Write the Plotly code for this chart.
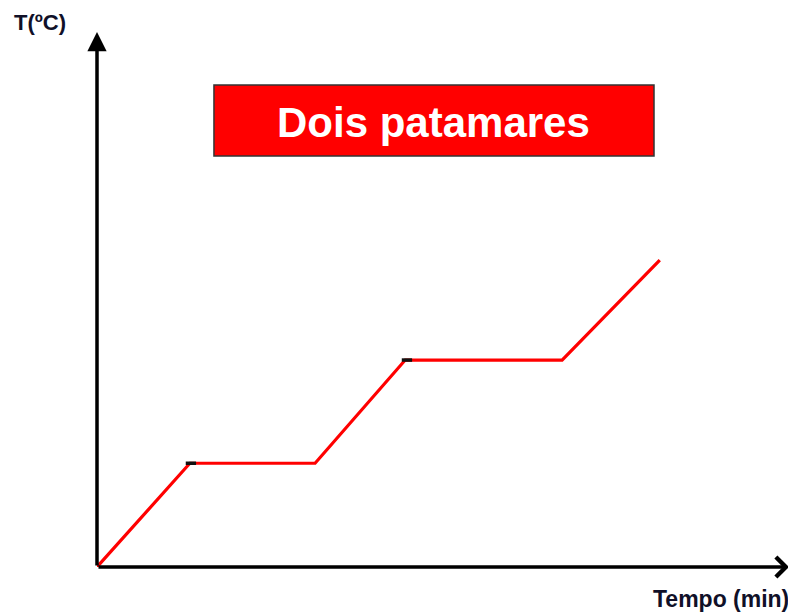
import plotly.graph_objects as go

# Data (arbitrary units)
tempo = [0, 13.5, 31.7, 44.8, 67.6, 81.8]
temperatura = [0, 19.5, 19.5, 38.9, 38.9, 57.7]

# short dark marks at the start of each plateau
marca_x = [[12.9, 14.4], [44.3, 45.8]]
marca_y = [19.5, 38.9]

titulo = "Dois patamares"
rotulo_y = "T(ºC)"
rotulo_x = "Tempo (min)"

fig = go.Figure()

fig.add_trace(go.Scatter(x=tempo, y=temperatura, mode="lines",
                         line=dict(color="#ff0000", width=3.2),
                         hoverinfo="skip", showlegend=False))

for xs, yv in zip(marca_x, marca_y):
    fig.add_trace(go.Scatter(x=xs, y=[yv, yv], mode="lines",
                             line=dict(color="#111111", width=3.5),
                             hoverinfo="skip", showlegend=False))

# Axes as arrows (paper coords, tails given in pixels)
fig.add_annotation(x=1.0058, y=0, xref="paper", yref="paper", ax=-692, ay=0,
                   showarrow=True, arrowhead=4, arrowsize=1.1, arrowwidth=3.5,
                   arrowcolor="#000000", text="", standoff=0, startstandoff=0)
fig.add_annotation(x=0, y=1.0056, xref="paper", yref="paper", ax=0, ay=535,
                   showarrow=True, arrowhead=2, arrowsize=1.1, arrowwidth=3.5,
                   arrowcolor="#000000", text="", standoff=0, startstandoff=0)

# Title box
fig.add_shape(type="rect", xref="paper", yref="paper",
              x0=0.170, x1=0.8096, y0=0.7726, y1=0.906,
              fillcolor="#ff0000", line=dict(color="#333333", width=1.5))
fig.add_annotation(x=0.4898, y=0.836, xref="paper", yref="paper", text="<b>" + titulo + "</b>",
                   showarrow=False, font=dict(family="Liberation Sans, Arial", size=42, color="white"),
                   xanchor="center", yanchor="middle")

# Axis labels
fig.add_annotation(x=-0.123, y=1.024, xref="paper", yref="paper", text="<b>" + rotulo_y + "</b>",
                   showarrow=False, xanchor="left", yanchor="middle",
                   font=dict(family="Liberation Sans, Arial", size=22, color="#101028"))
fig.add_annotation(x=1.0085, y=-0.060, xref="paper", yref="paper", text="<b>" + rotulo_x + "</b>",
                   showarrow=False, xanchor="right", yanchor="middle",
                   font=dict(family="Liberation Sans, Arial", size=23, color="#101028"))

fig.update_xaxes(range=[0, 100], visible=False)
fig.update_yaxes(range=[0, 100], visible=False)
# the page body adds an 8px offset, so the figure is 8px smaller and margins shifted
fig.update_layout(width=788, height=608,
                  margin=dict(l=89, r=11, t=27, b=49),
                  plot_bgcolor="white", paper_bgcolor="white")

fig.write_html("out.html")
